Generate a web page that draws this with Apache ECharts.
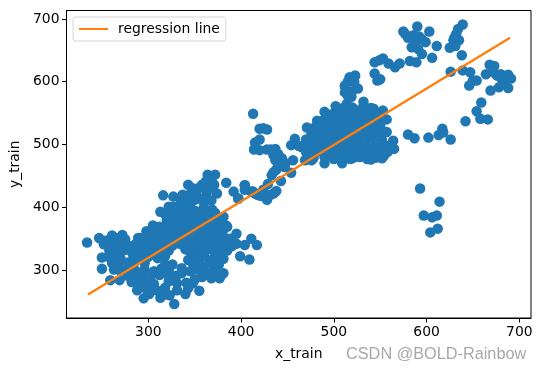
<!DOCTYPE html>
<html><head><meta charset="utf-8">
<style>html,body{margin:0;padding:0;background:#fff}#c{width:542px;height:371px}</style>
<script src="https://cdn.jsdelivr.net/npm/echarts@6/dist/echarts.min.js"></script>
</head><body><div id="c"></div>
<script>
const lowerEdge=[[234,344],[247,351],[255,347],[261,355],[272,356],[289,351],[298,362],[250,320],[250,302],[259,284],[269,284],[259,319],[316,419],[327,417],[337,420],[343,436],[349,430],[346,408],[355,414],[364,452],[372,452],[358,436],[371,436],[374,422],[363,423],[384,439],[404,435],[413,425],[397,414],[425,418],[313,393],[327,401],[329,382],[351,394],[360,400],[369,396],[320,379],[307,366],[316,353],[385,369],[395,358],[411,350],[417,340],[404,340],[399,322],[409,317],[395,342],[388,350],[381,385],[340,333],[343,316],[381,318],[381,295],[377,287],[368,287],[359,300],[363,332],[345,298],[336,295],[350,285],[348,279],[355,267],[340,262],[328,246],[323,260],[313,256],[295,255],[288,268],[282,281],[309,268]];
const lowerFill=[[301,262],[318,261],[297,271],[305,269],[318,272],[331,268],[343,271],[291,279],[299,281],[306,278],[322,282],[331,279],[341,280],[278,291],[286,289],[293,291],[302,288],[312,292],[322,290],[330,291],[358,289],[365,292],[372,290],[263,301],[270,299],[278,302],[286,299],[296,301],[306,298],[314,302],[322,299],[352,301],[362,298],[372,302],[261,311],[268,309],[278,312],[284,309],[296,311],[318,309],[348,311],[356,308],[366,312],[376,309],[262,321],[270,319],[284,322],[292,319],[300,321],[310,319],[318,322],[352,319],[360,322],[370,318],[378,321],[258,331],[266,329],[274,332],[282,329],[290,331],[298,328],[306,332],[314,329],[322,331],[345,329],[353,332],[360,328],[370,332],[378,329],[385,331],[252,341],[262,339],[270,342],[278,339],[286,341],[294,338],[302,342],[310,339],[318,341],[326,339],[334,342],[342,339],[350,341],[358,338],[366,342],[374,339],[382,341],[390,338],[265,351],[275,349],[292,351],[300,348],[308,352],[316,349],[324,351],[332,348],[340,352],[348,349],[356,351],[364,348],[372,352],[380,349],[300,359],[308,362],[316,359],[324,361],[332,358],[340,362],[348,359],[356,361],[364,358],[372,362],[380,359],[305,371],[312,369],[320,372],[328,369],[336,371],[344,368],[352,372],[360,369],[368,371],[376,368],[384,371],[322,381],[330,378],[338,382],[346,379],[354,381],[362,378],[370,382],[378,379],[318,389],[326,391],[334,388],[340,392],[348,389],[356,391],[364,388],[372,391],[322,401],[332,399],[340,402],[346,398],[335,411],[341,409],[350,412],[360,409],[368,411],[345,421],[352,419],[355,431],[362,429],[368,432],[362,441],[368,443],[392,425],[404,428],[418,420],[326,309],[336,303],[264,344]];
const midEdge=[[413,549],[420,525],[424,526],[428,524],[420,508],[415,503],[414,492],[420,491],[428,492],[437,493],[435,483],[437,475],[444,478],[456,475],[447,464],[435,456],[433,451],[443,442],[454,455],[438,426],[435,422],[429,437],[404,435],[411,425],[419,419],[428,412],[397,414],[458,509],[454,499],[465,496],[471,527],[482,538],[490,552],[502,561],[469,475],[476,475],[490,470],[509,470],[521,479],[540,476],[554,482],[565,493],[564,506],[557,520],[557,540],[553,554],[543,557],[532,568],[514,565],[512,592],[526,589],[523,610],[517,607],[512,594],[519,576],[544,613],[547,602]];
const midFill=[[478,478],[490,480],[500,477],[510,479],[518,477],[528,480],[536,477],[545,479],[552,478],[470,488],[480,486],[488,489],[498,487],[506,489],[514,486],[524,489],[532,487],[542,489],[550,486],[558,488],[462,498],[470,499],[478,497],[486,499],[494,497],[502,499],[510,497],[518,499],[526,497],[534,499],[544,497],[552,499],[560,498],[470,508],[478,509],[486,507],[494,509],[502,507],[510,509],[518,507],[526,509],[534,507],[542,509],[552,507],[476,518],[484,519],[492,517],[500,519],[508,517],[516,519],[524,517],[532,519],[540,517],[548,519],[480,528],[488,529],[496,527],[504,529],[512,527],[520,529],[528,527],[536,529],[544,527],[550,529],[488,538],[496,539],[504,537],[512,539],[520,537],[528,539],[536,537],[544,539],[552,538],[498,548],[506,549],[514,547],[522,549],[530,547],[538,549],[546,547],[510,558],[520,559],[530,557],[540,558],[515,578],[520,585],[515,600],[522,600],[512,583],[440,470],[438,460],[448,470],[415,422],[422,418],[431,419],[424,428],[440,485],[432,492],[544,631],[549,634]];
const upperCluster=[[590,688],[603,680],[575,680],[577,676],[586,674],[595,668],[599,663],[584,655],[591,652],[611,657],[595,644],[589,631],[582,633],[606,638],[592,672],[588,665],[580,670],[639,691],[634,684],[632,676],[635,666],[629,666],[625,654],[631,657],[630,670],[638,642],[553,637],[559,629],[566,623],[571,629],[550,604],[626,616],[639,618],[647,615],[650,602],[654,602],[646,594],[664,612],[668,627],[673,625],[676,610],[688,611],[691,605],[681,605],[688,590],[678,591],[669,586],[659,567],[654,553],[658,541],[666,540],[642,537],[672,615],[680,612],[683,600]];
const rightOutliers=[[593,430],[614,409],[597,387],[606,384],[611,387],[612,366],[604,360],[580,516],[587,510],[602,511],[613,515],[617,525],[618,519],[626,508]];
const regressionX=[235,690];
const regressionY=[261,670];
const xTicks=[300,400,500,600,700];
const yTicks=[300,400,500,600,700];
const points=[...lowerEdge,...lowerFill,...midEdge,...midFill,...upperCluster,...rightOutliers];
const FONT='"DejaVu Sans"';
const chart=echarts.init(document.getElementById('c'),null,{renderer:'canvas'});
const axisBase={splitLine:{show:false},axisLine:{show:true,onZero:false,lineStyle:{color:'#000',width:1}},
 axisTick:{show:true,length:4.5,inside:false,lineStyle:{color:'#000',width:1}},
 nameTextStyle:{color:'#000',fontFamily:FONT,fontSize:13.9}};
chart.setOption({
 animation:false,backgroundColor:'#fff',
 grid:{left:66.5,top:10.5,width:464.5,height:307.5,show:true,borderColor:'#000',borderWidth:1,backgroundColor:'#fff'},
 xAxis:{...axisBase,type:'value',min:211.8,max:712.6,name:'x_train',nameLocation:'middle',nameGap:29,
  axisTick:{...axisBase.axisTick,customValues:xTicks},
  axisLabel:{customValues:xTicks,color:'#000',fontFamily:FONT,fontSize:13.9,margin:7}},
 yAxis:{...axisBase,type:'value',min:223.7,max:713.4,name:'y_train',nameLocation:'middle',nameGap:40,
  axisTick:{...axisBase.axisTick,customValues:yTicks},
  axisLabel:{customValues:yTicks,color:'#000',fontFamily:FONT,fontSize:13.9,margin:7}},
 legend:{show:true,left:73,top:17,data:['regression line'],itemWidth:29,itemHeight:10,padding:[5,6,5,5],
  itemStyle:{opacity:0},lineStyle:{color:'#ff7f0e',width:2},
  borderColor:'#d6d6d6',borderWidth:1,borderRadius:3,backgroundColor:'rgba(255,255,255,0.8)',
  textStyle:{color:'#000',fontFamily:FONT,fontSize:13.9,padding:[0,0,0,5]}},
 series:[
  {name:'train',type:'scatter',data:points,symbol:'circle',symbolSize:10.5,itemStyle:{color:'#1f77b4',opacity:1},z:2},
  {name:'regression line',type:'line',data:regressionX.map((x,i)=>[x,regressionY[i]]),showSymbol:false,symbol:'none',
   lineStyle:{color:'#ff7f0e',width:2.4},itemStyle:{color:'#ff7f0e'},z:3}
 ],
 graphic:[{type:'text',left:346,top:347,silent:true,z:10,style:{text:'CSDN @BOLD-Rainbow',fill:'#a8a8a8',font:'16.3px "Liberation Sans"'}}]
});
</script></body></html>
